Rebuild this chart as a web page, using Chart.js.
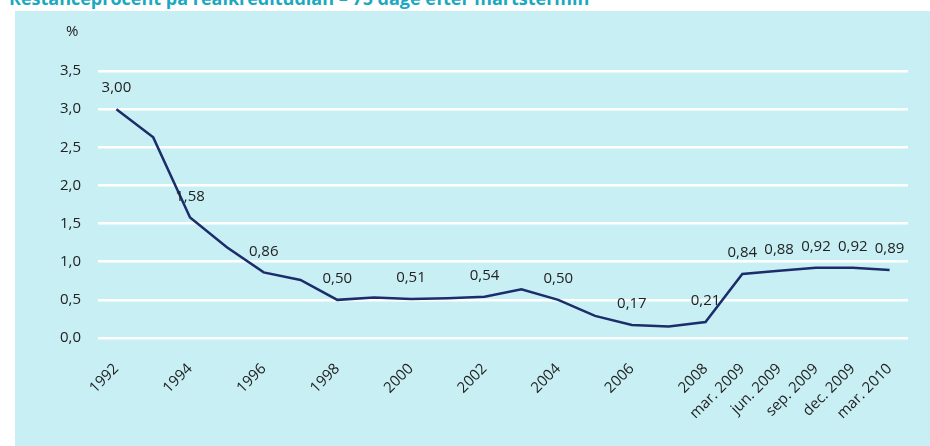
<!DOCTYPE html>
<html>
<head>
<meta charset="utf-8">
<script src="https://cdn.jsdelivr.net/npm/chart.js@4/dist/chart.umd.min.js"></script>
<style>
	html, body { margin: 0; padding: 0; width: 930px; height: 446px; overflow: hidden; background: #fff; font-family: "Open Sans", sans-serif; }
	#title { position: absolute; left: 9px; top: -11px; font-size: 18px; line-height: 18px; font-weight: bold; color: #1aa9c0; white-space: nowrap; }
	#box { position: absolute; left: 15px; top: 11px; width: 915px; height: 435px; background: #c8eff4; }
	#unit { position: absolute; left: 51px; top: 9px; font-size: 15px; color: #222; }
</style>
</head>
<body>
<div id="title">Restanceprocent på realkreditudlån – 75 dage efter martstermin</div>
<div id="box">
	<div id="unit">%</div>
	<canvas id="chart" width="915" height="435"></canvas>
</div>
<script>
// kategorier (år og kvartaler)
var categories = ['1992', '1993', '1994', '1995', '1996', '1997', '1998', '1999', '2000', '2001', '2002',
	'2003', '2004', '2005', '2006', '2007', '2008', 'mar. 2009', 'jun. 2009', 'sep. 2009', 'dec. 2009', 'mar. 2010'];
// viste x-etiketter
var tickLabels = ['1992', '', '1994', '', '1996', '', '1998', '', '2000', '', '2002',
	'', '2004', '', '2006', '', '2008', 'mar. 2009', 'jun. 2009', 'sep. 2009', 'dec. 2009', 'mar. 2010'];
// restanceprocent
var values = [3.00, 2.63, 1.58, 1.19, 0.86, 0.76, 0.50, 0.53, 0.51, 0.52, 0.54,
	0.64, 0.50, 0.29, 0.17, 0.15, 0.21, 0.84, 0.88, 0.92, 0.92, 0.89];
// punkter med værdi-etiket
var showLabel = [1, 0, 1, 0, 1, 0, 1, 0, 1, 0, 1, 0, 1, 0, 1, 0, 1, 1, 1, 1, 1, 1];
var yTicks = [0, 0.5, 1.0, 1.5, 2.0, 2.5, 3.0, 3.5];

function komma(v, d) {
	return v.toFixed(d).replace('.', ',');
}

var valueLabels = {
	id: 'valueLabels',
	afterDatasetsDraw: function (chart) {
		var ctx = chart.ctx;
		var meta = chart.getDatasetMeta(0);
		ctx.save();
		ctx.font = '15px "Open Sans"';
		ctx.fillStyle = '#222';
		ctx.textAlign = 'center';
		ctx.textBaseline = 'middle';
		for (var i = 0; i < meta.data.length; i++) {
			if (!showLabel[i]) continue;
			var p = meta.data[i];
			ctx.fillText(komma(values[i], 2), p.x, p.y - 21);
		}
		ctx.restore();
	}
};

new Chart(document.getElementById('chart'), {
	type: 'line',
	data: {
		labels: categories,
		datasets: [{
			data: values,
			borderColor: '#1b2d6b',
			borderWidth: 2.5,
			pointRadius: 0,
			tension: 0,
			fill: false
		}]
	},
	options: {
		responsive: false,
		animation: false,
		layout: { padding: { top: 60, right: 22, left: 0, bottom: 0 } },
		plugins: {
			legend: { display: false },
			tooltip: { enabled: false }
		},
		scales: {
			x: {
				offset: true,
				grid: { display: false },
				border: { display: false },
				afterFit: function (scale) { scale.height = 108; },
				ticks: {
					autoSkip: false,
					minRotation: 45,
					maxRotation: 45,
					padding: 14,
					color: '#222',
					font: { family: 'Open Sans', size: 15 },
					callback: function (v, i) { return tickLabels[i]; }
				}
			},
			y: {
				min: 0,
				max: 3.5,
				afterFit: function (scale) { scale.width = 83; },
				afterBuildTicks: function (scale) {
					scale.ticks = yTicks.map(function (v) { return { value: v }; });
				},
				grid: { color: '#fff', lineWidth: 2.5, drawTicks: false },
				border: { display: false },
				ticks: {
					padding: 17,
					color: '#222',
					font: { family: 'Open Sans', size: 15 },
					callback: function (v) { return komma(v, 1); }
				}
			}
		}
	},
	plugins: [valueLabels]
});
</script>
</body>
</html>
